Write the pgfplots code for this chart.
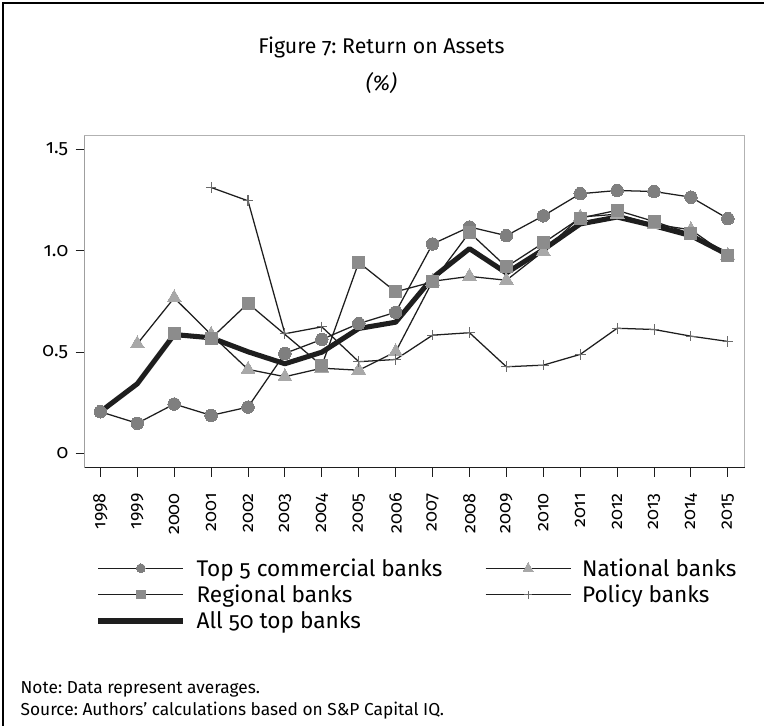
\documentclass[border=0pt]{standalone}
\usepackage{fontspec}
\setmainfont{Fira Sans}[Numbers=OldStyle]
\usepackage{pgfplots}
\pgfplotsset{compat=1.18}
\definecolor{circ}{HTML}{7F7F7F}
\definecolor{sq}{HTML}{8C8C8C}
\definecolor{tri}{HTML}{A8A8A8}
\definecolor{pl}{HTML}{6A6A6A}
\definecolor{ln}{HTML}{1E1E1E}
\frenchspacing
\begin{document}
\begin{tikzpicture}
\begin{scope}[x=0.75pt,y=0.75pt]
% canvas 765 x 727 px
\path (0,0) rectangle (765,727);
\draw[line width=1.8pt,black] (3,0) -- (3,724) -- (765,724);
\node[font=\fontsize{16}{18}\selectfont] at (382,679) {Figure 7: Return on Assets};
\node[font=\fontsize{16}{18}\selectfont\itshape] at (382,644) {(\%)};
\node[anchor=west,font=\fontsize{13}{15}\selectfont] at (16,37) {Note: Data represent averages.};
\node[anchor=west,font=\fontsize{13}{15}\selectfont] at (16,15) {Source: Authors’ calculations based on S\&P Capital IQ.};
\end{scope}
\begin{axis}[
  at={(63.75pt,194.25pt)}, anchor=south west,
  scale only axis, width=495.75pt, height=249pt,
  xmin=1997.58, xmax=2015.46,
  ymin=-0.069, ymax=1.567,
  xtick={1998,...,2015},
  ytick={0,0.5,1.0,1.5},
  yticklabels={0,0.5,1.0,1.5},
  /pgf/number format/1000 sep={},
  /pgf/number format/assume math mode=true,
  tick align=outside,
  major tick length=7pt,
  tick style={ln, line width=0.7pt},
  xtick pos=bottom, ytick pos=left,
  axis line style={gray!60, line width=0.6pt},
  xticklabel shift=9pt,
  yticklabel shift=2pt,
  xticklabel style={rotate=90, anchor=east, font=\fontsize{13.5}{15}\selectfont},
  yticklabel style={font=\fontsize{14.5}{16}\selectfont},
  legend columns=2,
  legend cell align=left,
  legend style={draw=none, fill=none, at={(rel axis cs:0.01,-0.258)}, anchor=north west,
    font=\fontsize{17}{19}\selectfont,
    row sep=1.2pt,
    /tikz/every odd column/.append style={column sep=6pt},
    /tikz/every even column/.append style={column sep=30pt}},
  legend image code/.code={\draw[mark repeat=2,mark phase=2,every mark/.append style={scale=0.7}] plot coordinates {(0pt,0pt) (32pt,0pt) (64pt,0pt)};},
]
\addplot[ln, line width=0.95pt, mark=*, mark size=4.7pt, mark options={fill=circ, draw=circ, line width=0pt}] coordinates {
(1998,0.205) (1999,0.148) (2000,0.243) (2001,0.187) (2002,0.228) (2003,0.493) (2004,0.562) (2005,0.640) (2006,0.696)
(2007,1.033) (2008,1.117) (2009,1.074) (2010,1.172) (2011,1.281) (2012,1.297) (2013,1.292) (2014,1.264) (2015,1.158)};
\addlegendentry{Top 5 commercial banks}
\addplot[ln, line width=0.95pt, mark=triangle*, mark size=6pt, mark options={fill=tri, draw=tri, line width=0pt}] coordinates {
(1999,0.540) (2000,0.767) (2001,0.586) (2002,0.414) (2003,0.378) (2004,0.420) (2005,0.410) (2006,0.501)
(2007,0.849) (2008,0.873) (2009,0.854) (2010,0.997) (2011,1.166) (2012,1.180) (2013,1.130) (2014,1.103) (2015,0.975)};
\addlegendentry{National banks}
\addplot[ln, line width=0.95pt, mark=square*, mark size=4.5pt, mark options={fill=sq, draw=sq, line width=0pt}] coordinates {
(2000,0.591) (2001,0.567) (2002,0.740) (2004,0.433) (2005,0.942) (2006,0.797)
(2007,0.846) (2008,1.090) (2009,0.920) (2010,1.038) (2011,1.161) (2012,1.199) (2013,1.144) (2014,1.084) (2015,0.977)};
\addlegendentry{Regional banks}
\addplot[ln, line width=0.95pt, mark=+, mark size=4pt, mark options={draw=pl, line width=0.8pt}] coordinates {
(2001,1.312) (2002,1.246) (2003,0.590) (2004,0.624) (2005,0.452) (2006,0.463)
(2007,0.583) (2008,0.595) (2009,0.427) (2010,0.435) (2011,0.488) (2012,0.617) (2013,0.611) (2014,0.578) (2015,0.552)};
\addlegendentry{Policy banks}
\addplot[ln, line width=3.8pt, line join=round] coordinates {
(1998,0.205) (1999,0.343) (2000,0.586) (2001,0.570) (2002,0.501) (2003,0.442) (2004,0.499) (2005,0.616) (2006,0.647)
(2007,0.866) (2008,1.010) (2009,0.890) (2010,1.005) (2011,1.132) (2012,1.166) (2013,1.123) (2014,1.074) (2015,0.980)};
\addlegendentry{All 50 top banks}
\draw[ln, line width=0.7pt] (rel axis cs:0,1) -- (rel axis cs:0,0) -- (rel axis cs:1,0);
\end{axis}
\end{tikzpicture}
\end{document}
